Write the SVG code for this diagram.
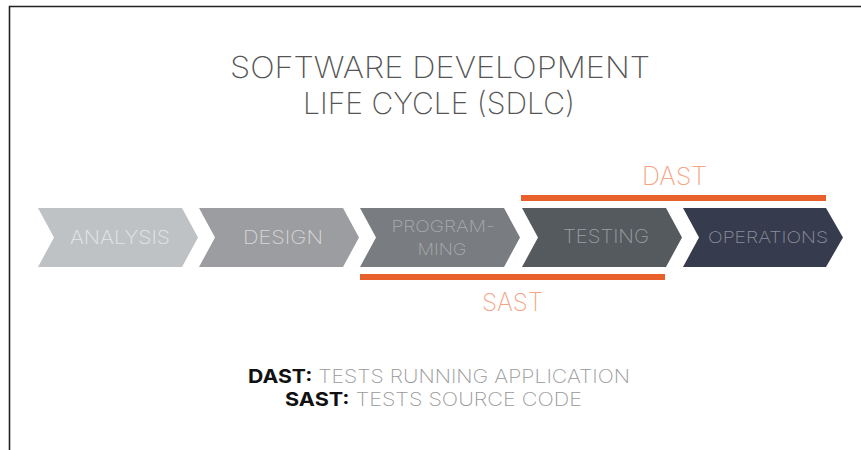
<svg xmlns="http://www.w3.org/2000/svg" width="861" height="450" viewBox="0 0 861 450">
<style>
.t{font-family:Inter,Lato,"Open Sans","Liberation Sans",sans-serif;font-weight:200;text-anchor:middle}
.title{font-size:30px;fill:#555}
.lbl{font-size:19px}
.orange{font-size:25px;fill:#f4a584}
.bar{fill:#e8612c}
.leg{font-size:19px;fill:#999}
.legb{font-weight:700;fill:#111}
</style>
<rect width="861" height="450" fill="#fff"/>
<path d="M9.5 450 V6.5 H861" fill="none" stroke="#222" stroke-width="1.6"/>
<g id="title">
<text class="t title" x="440" y="78" textLength="420" lengthAdjust="spacingAndGlyphs">SOFTWARE DEVELOPMENT</text>
<text class="t title" x="439" y="114" textLength="272" lengthAdjust="spacingAndGlyphs">LIFE CYCLE (SDLC)</text>
</g>
<g id="analysis">
<polygon points="38,208 182,208 198,237.5 182,267 38,267 54,237.5" fill="#bfc2c4"/>
<text class="t lbl" x="120" y="244" fill="#e4e6e7" textLength="100" lengthAdjust="spacingAndGlyphs">ANALYSIS</text>
</g>
<g id="design">
<polygon points="199,208 343,208 359,237.5 343,267 199,267 215,237.5" fill="#9c9da0"/>
<text class="t lbl" x="283" y="244" fill="#d6d7d8" textLength="80" lengthAdjust="spacingAndGlyphs">DESIGN</text>
</g>
<g id="programming">
<polygon points="360,208 504,208 520,237.5 504,267 360,267 376,237.5" fill="#797c80"/>
<text class="t" style="font-size:16px" x="443" y="232" fill="#a9acae" textLength="103" lengthAdjust="spacingAndGlyphs">PROGRAM-</text>
<text class="t" style="font-size:16px" x="442" y="255" fill="#a9acae" textLength="49" lengthAdjust="spacingAndGlyphs">MING</text>
</g>
<g id="testing">
<polygon points="522,208 666,208 682,237.5 666,267 522,267 538,237.5" fill="#555a5f"/>
<text class="t lbl" x="606" y="243" fill="#9a9ea2" textLength="86" lengthAdjust="spacingAndGlyphs">TESTING</text>
</g>
<g id="operations">
<polygon points="683,208 826,208 843,237.5 826,267 683,267 699,237.5" fill="#363b4d"/>
<text class="t" style="font-size:16px" x="768" y="243" fill="#8a8f9c" textLength="120" lengthAdjust="spacingAndGlyphs">OPERATIONS</text>
</g>
<g id="dast">
<rect class="bar" x="521" y="195" width="305" height="6"/>
<text class="t orange" x="674.5" y="185" textLength="65" lengthAdjust="spacingAndGlyphs">DAST</text>
</g>
<g id="sast">
<rect class="bar" x="360" y="274" width="305" height="6"/>
<text class="t orange" x="512.5" y="311" textLength="61" lengthAdjust="spacingAndGlyphs">SAST</text>
</g>
<g id="legend">
<text class="t leg" x="439" y="383" textLength="382" lengthAdjust="spacingAndGlyphs"><tspan class="legb">DAST:</tspan> TESTS RUNNING APPLICATION</text>
<text class="t leg" x="433.5" y="406" textLength="297" lengthAdjust="spacingAndGlyphs"><tspan class="legb">SAST:</tspan> TESTS SOURCE CODE</text>
</g>
</svg>
